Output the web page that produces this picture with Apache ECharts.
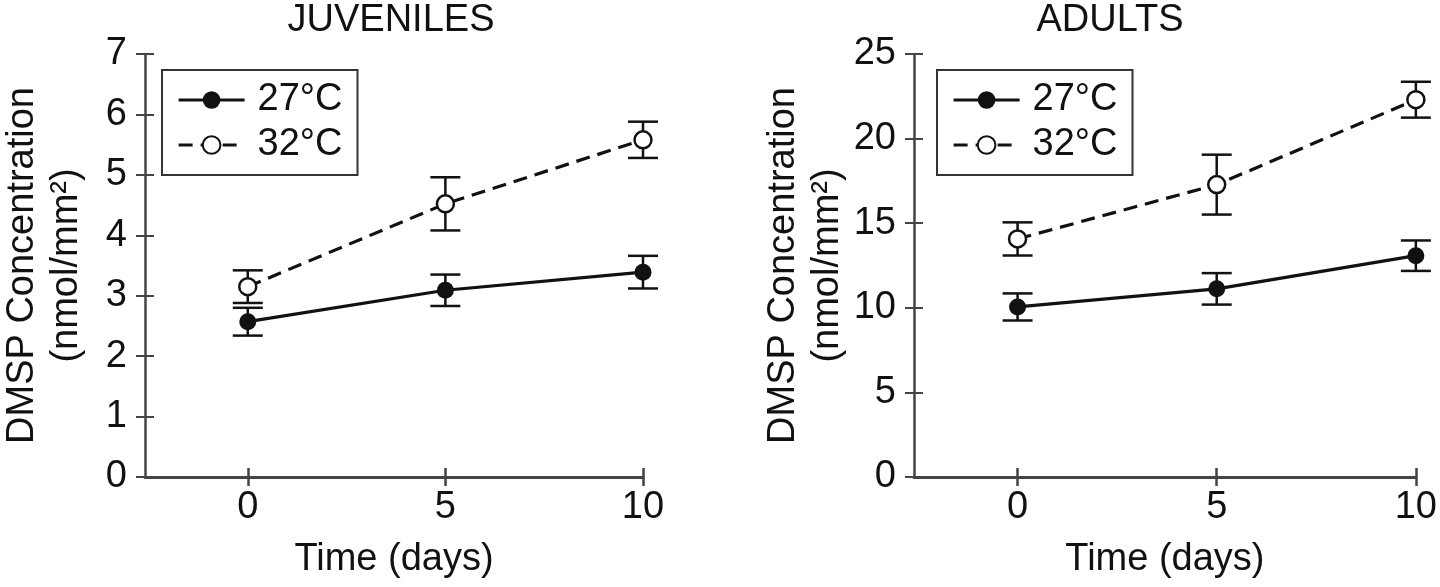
<!DOCTYPE html>
<html lang="en">
	<head>
		<meta charset="UTF-8">
		<title>DMSP Concentration</title>
		<style type="text/css">
			html,
			body,
			.canvas {
				padding: 0;
				margin: 0;
				background-color: #fff;
				width: 100%;
				height: 100%;
			}
		</style>
	</head>
	<body>
		<div class="canvas" id="chart"></div>
		<script type="text/javascript" src="https://cdn.jsdelivr.net/npm/echarts@6/dist/echarts.min.js"></script>
		<script>
			// values
			const days = [0, 5, 10];
			const juv27 = [2.57, 3.09, 3.39];
			const juv27Err = [0.23, 0.26, 0.27];
			const juv32 = [3.15, 4.52, 5.58];
			const juv32Err = [0.27, 0.44, 0.30];
			const adu27 = [10.05, 11.12, 13.08];
			const adu27Err = [0.80, 0.93, 0.90];
			const adu32 = [14.07, 17.28, 22.30];
			const adu32Err = [0.98, 1.77, 1.06];
			const xTicks = [0, 5, 10];
			const juvTicks = [0, 1, 2, 3, 4, 5, 6, 7];
			const aduTicks = [0, 5, 10, 15, 20, 25];
			const titles = ['JUVENILES', 'ADULTS'];
			const legendNames = ['27°C', '32°C'];

			const font = "'Liberation Sans', Arial, Helvetica, sans-serif";
			const fs = 38;
			const ink = '#111';
			const axisInk = '#444';

			function pts(vals) {
				return days.map((d, i) => [d, vals[i]]);
			}
			function errs(vals, e) {
				return days.map((d, i) => [d, vals[i] - e[i], vals[i] + e[i]]);
			}

			function renderErr(params, api) {
				const x = api.value(0);
				const top = api.coord([x, api.value(2)]);
				const bot = api.coord([x, api.value(1)]);
				const w = 15;
				const style = { stroke: ink, lineWidth: 2.5 };
				return {
					type: 'group',
					children: [
						{ type: 'line', shape: { x1: top[0], y1: top[1], x2: bot[0], y2: bot[1] }, style },
						{ type: 'line', shape: { x1: top[0] - w, y1: top[1], x2: top[0] + w, y2: top[1] }, style },
						{ type: 'line', shape: { x1: bot[0] - w, y1: bot[1], x2: bot[0] + w, y2: bot[1] }, style }
					]
				};
			}

			function xAxes(grid) {
				return [{
					type: 'value', gridIndex: grid, position: 'bottom', min: -2.6, max: 10,
					name: 'Time (days)', nameLocation: 'middle', nameGap: 64,
					nameTextStyle: { fontFamily: font, fontSize: fs, color: ink },
					axisLine: { onZero: false, lineStyle: { color: axisInk, width: 3 } },
					axisTick: { show: true, length: 9, customValues: xTicks, lineStyle: { color: axisInk, width: 2.5 } },
					axisLabel: { customValues: xTicks, margin: 12, fontFamily: font, fontSize: fs, color: ink },
					splitLine: { show: false }
				}, {
					// inner half of the crossing ticks
					type: 'value', gridIndex: grid, position: 'bottom', min: -2.6, max: 10,
					axisLine: { show: false, onZero: false },
					axisTick: { show: true, inside: true, length: 9, customValues: xTicks, lineStyle: { color: axisInk, width: 2.5 } },
					axisLabel: { show: false },
					splitLine: { show: false }
				}];
			}

			function yAxes(grid, ticks) {
				const max = ticks[ticks.length - 1];
				return [{
					type: 'value', gridIndex: grid, position: 'left', min: 0, max: max,
					name: 'DMSP Concentration\n(nmol/mm²)', nameLocation: 'middle', nameGap: 56, nameRotate: 90,
					nameTextStyle: { fontFamily: font, fontSize: fs, color: ink, lineHeight: 44 },
					axisLine: { show: true, onZero: false, lineStyle: { color: axisInk, width: 2.5 } },
					axisTick: { show: true, length: 9, customValues: ticks, lineStyle: { color: axisInk, width: 2 } },
					axisLabel: { customValues: ticks, margin: 18, fontFamily: font, fontSize: fs, color: ink },
					splitLine: { show: false }
				}, {
					type: 'value', gridIndex: grid, position: 'left', min: 0, max: max,
					axisLine: { show: false, onZero: false },
					axisTick: { show: true, inside: true, length: 9, customValues: ticks, lineStyle: { color: axisInk, width: 2 } },
					axisLabel: { show: false },
					splitLine: { show: false }
				}];
			}

			function lineSeries(name, data, ax, open) {
				return {
					name: name, type: 'line', xAxisIndex: ax, yAxisIndex: ax, z: 3,
					data: pts(data), symbol: 'circle', symbolSize: 17,
					itemStyle: open ? { color: '#fff', borderColor: ink, borderWidth: 2.5 } : { color: ink },
					lineStyle: { color: ink, width: 3.2, type: open ? [14, 8] : 'solid' }
				};
			}

			function errSeries(name, data, e, ax) {
				return {
					name: name + ' error', type: 'custom', xAxisIndex: ax, yAxisIndex: ax, z: 1,
					renderItem: renderErr, encode: { x: 0, y: [1, 2] },
					data: errs(data, e)
				};
			}

			function legend(left) {
				return {
					data: legendNames, orient: 'vertical', left: left, top: 70,
					padding: [9, 15, 9, 15], itemGap: 3, itemWidth: 66, itemHeight: 22,
					borderColor: '#333', borderWidth: 2,
					lineStyle: { width: 3.2 },
					textStyle: { fontFamily: font, fontSize: fs, color: ink, lineHeight: 42, padding: [0, 0, 0, 8] }
				};
			}

			const chart = echarts.init(document.getElementById('chart'));
			chart.setOption({
				animation: false,
				backgroundColor: '#fff',
				graphic: [
					{ type: 'text', x: 391, y: 2, style: { text: titles[0], align: 'center', font: fs + 'px ' + font, fill: ink } },
					{ type: 'text', x: 1110, y: 2, style: { text: titles[1], align: 'center', font: fs + 'px ' + font, fill: ink } }
				],
				legend: [legend(162), legend(937)],
				grid: [
					{ left: 139, top: 54, width: 504, height: 423 },
					{ left: 914, top: 54, width: 504, height: 423 }
				],
				xAxis: xAxes(0).concat(xAxes(1)),
				yAxis: yAxes(0, juvTicks).concat(yAxes(1, aduTicks)),
				series: [
					errSeries('27°C', juv27, juv27Err, 0),
					errSeries('32°C', juv32, juv32Err, 0),
					lineSeries('27°C', juv27, 0, false),
					lineSeries('32°C', juv32, 0, true),
					errSeries('27°C', adu27, adu27Err, 2),
					errSeries('32°C', adu32, adu32Err, 2),
					lineSeries('27°C', adu27, 2, false),
					lineSeries('32°C', adu32, 2, true)
				]
			});
		</script>
	</body>
</html>
